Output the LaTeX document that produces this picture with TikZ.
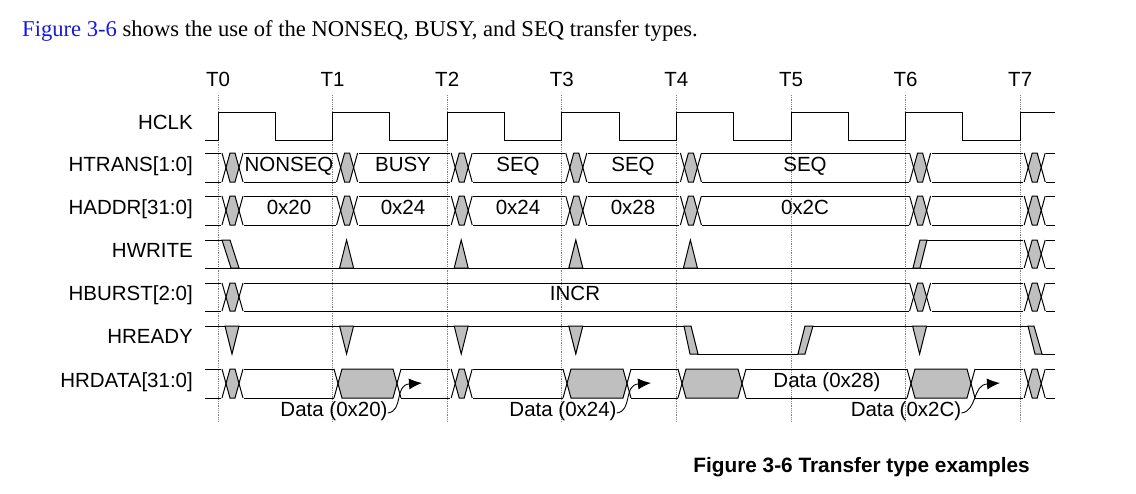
\documentclass[tikz,border=0pt]{standalone}
\usepackage{fontspec}
\setmainfont{Liberation Serif}
\newfontfamily\arial{Liberation Sans}
\usetikzlibrary{arrows.meta}
\tikzset{sig/.style={line width=1pt,line join=miter},
 lab/.style={font=\arial\fontsize{20.5}{24}\selectfont,inner sep=0pt,text height=0.72em,text depth=0pt},
 grid/.style={gray,densely dotted,line width=0.8pt},
 gfill/.style={sig,fill=gray!50}}
\newcommand\dblx[4]{%
 \fill[white] ({#1+3},{#2-1}) rectangle ({#1+26},{#4+1});
 \filldraw[gfill] ({#1+8},#3)--({#1+12},#2)--({#1+17},#2)--({#1+21},#3)--({#1+17},#4)--({#1+12},#4)--cycle;
 \draw[sig] ({#1+4},#2)--({#1+8},#3)--({#1+4},#4) ({#1+25},#2)--({#1+21},#3)--({#1+25},#4);}
\newcommand\gdat[5]{%
 \fill[white] ({#1-4},{#3-1}) rectangle ({#2+4},{#5+1});
 \filldraw[gfill] (#1,#4)--({#1+4},#3)--({#2-4},#3)--(#2,#4)--({#2-4},#5)--({#1+4},#5)--cycle;
 \draw[sig] ({#1-4},#3)--(#1,#4)--({#1-4},#5) ({#2+4},#3)--(#2,#4)--({#2+4},#5);}
\begin{document}
\begin{tikzpicture}[x=1pt,y=-1pt]
\useasboundingbox (0,0) rectangle (1136,493);
\fill[white] (0,0) rectangle (1136,493);
\node[anchor=base west,inner sep=0pt,font=\fontsize{22.6}{26}\selectfont] (intro) at (22,36) {\textcolor[rgb]{0.1,0.1,0.85}{Figure 3-6} shows the use of the NONSEQ, BUSY, and SEQ transfer types.};
\node[anchor=base east,inner sep=0pt,font=\arial\bfseries\fontsize{20.8}{24}\selectfont] (cap) at (1030,472) {Figure 3-6 Transfer type examples};
% grid and T labels
\foreach \i/\x in {0/218,1/332.6,2/447.2,3/561.8,4/676.4,5/791,6/905.6,7/1020.2}{
 \draw[grid] (\x,95) -- (\x,422);
 \node[lab] (t\i) at (\x,83) {T\i};}
% signal names
\foreach \n/\y/\t in {clk/126/HCLK,tr/167.5/HTRANS[1:0],ad/210.5/HADDR[31:0],wr/254/HWRITE,bu/297/HBURST[2:0],rd/340/HREADY,da/383.5/HRDATA[31:0]}
 \node[lab,anchor=east] (n\n) at (193,\y) {\t};
% clock
\draw[sig] (205,140) \foreach \x in {218,332.6,447.2,561.8,676.4,791,905.6}{ -- (\x,140) -- (\x,112) -- ({\x+57.3},112) -- ({\x+57.3},140)} -- (1020.2,140) -- (1020.2,112) -- (1055,112);
% bus rows
\foreach \a/\b in {153/182,196/225,283/311,369/398}
 \draw[sig] (205,\a) -- (1055,\a) (205,\b) -- (1055,\b);
\foreach \x in {218,332.6,447.2,561.8,676.4,905.6,1020.2}{
 \dblx{\x}{153}{167.5}{182}
 \dblx{\x}{196}{210.5}{225}}
\foreach \x in {218,905.6,1020.2}{\dblx{\x}{283}{297}{311}}
\foreach \x in {218,447.2,1020.2}{\dblx{\x}{369}{383.5}{398}}
\gdat{338}{397}{369}{383.5}{398}
\gdat{567}{627}{369}{383.5}{398}
\gdat{682}{742}{369}{383.5}{398}
\gdat{911}{971}{369}{383.5}{398}
\foreach \x/\t/\u in {289/NONSEQ/0x20,403/BUSY/0x24,518/SEQ/0x24,633/SEQ/0x28,805/SEQ/0x2C}{
 \node[lab] at (\x,167.5) {\t};
 \node[lab] at (\x,210.5) {\u};}
\node[lab] (incr) at (575,297) {INCR};
\node[lab] (d28) at (827,383.5) {Data (0x28)};
% HWRITE
\draw[sig] (205,268) -- (1055,268) (205,240) -- (222,240) (927,240) -- (1055,240);
\filldraw[gfill] (222,240)--(230,240)--(239,268)--(231,268)--cycle;
\foreach \x in {332.6,447.2,561.8,676.4}
 \filldraw[gfill] ({\x+7},268)--({\x+14},240)--({\x+21},268)--cycle;
\filldraw[gfill] (913,268)--(920,268)--(927,240)--(920,240)--cycle;
\dblx{1020.2}{240}{254}{268}
% HREADY
\draw[sig] (205,326) -- (684,326) (697,354) -- (798,354) (813,326) -- (1028,326) (1042,354) -- (1055,354);
\foreach \x in {218,332.6,447.2,561.8,905.6}
 \filldraw[gfill] ({\x+7},326)--({\x+14},354)--({\x+21},326)--cycle;
\filldraw[gfill] (684,326)--(691,326)--(698,354)--(690,354)--cycle;
\filldraw[gfill] (798,354)--(805,354)--(813,326)--(805,326)--cycle;
\filldraw[gfill] (1028,326)--(1034,326)--(1042,354)--(1035,354)--cycle;
% data labels with arrows
\foreach \n/\x/\ax in {20/334/422,24/563/651,2C/906/1000}{
 \node[lab] (d\n) at (\x,413) {Data (0x\n)};
 \coordinate (a\n) at (\ax,383);
 \draw[line width=0.9pt,-{Latex[length=13pt,width=11pt]}] (d\n.east) .. controls ++(16,-2) and ({\ax-28},385) .. (a\n);}
\end{tikzpicture}
\end{document}
